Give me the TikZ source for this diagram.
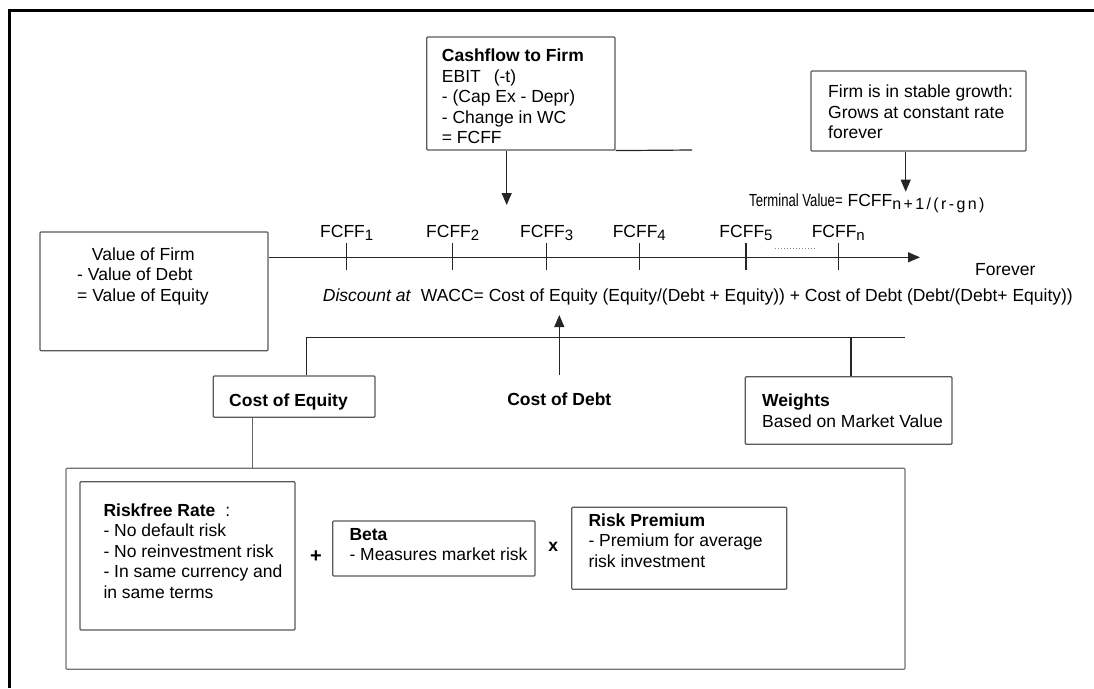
\documentclass[tikz,border=0pt]{standalone}
\usepackage{fontspec}
\setmainfont{Liberation Sans}
\usetikzlibrary{arrows.meta,fit}

\newcommand{\lowsub}[1]{\raisebox{-3pt}{\fontsize{15}{15}\selectfont #1}}

\begin{document}
\begin{tikzpicture}
[
  x=1pt, y=-1pt,
  box/.style = {draw=black!65, line width=1.2pt, inner sep=0pt, rounded corners=1pt},
  txt/.style = {anchor=base west, inner sep=0pt, align=left, font=\fontsize{17.5}{20.5}\selectfont},
  lab/.style = {anchor=base, inner sep=0pt, font=\fontsize{17.5}{20.5}\selectfont},
  link/.style = {draw=black!85, line width=1.2pt},
  arr/.style = {link, -{Triangle[length=12pt,width=10pt]}},
]
\useasboundingbox (0,0) rectangle (1094,688);

%frame
\draw[line width=3pt] (1094,10) -- (9,10) -- (9,688);

%boxes
\node[box, fit={(426.7,37) (615,150)}] (cff) {}; %cashflow
\node[box, fit={(811,71) (1026,151)}] (tg) {}; %stable growth
\node[box, fit={(40,232) (268,350.7)}] (vof) {}; %value of firm
\node[box, fit={(213.3,376) (375,417.3)}] (coe) {}; %cost of equity
\node[box, fit={(745.3,376.7) (952,444.3)}] (wts) {}; %weights
\node[box, draw=black!55, fit={(66,468.3) (905,669.3)}] (capm) {};
\node[box, fit={(80,481.7) (295,630)}] (rf) {}; %riskfree
\node[box, fit={(332.7,521) (535,576)}] (beta) {};
\node[box, fit={(571.7,507.3) (786.7,589.3)}] (rp) {}; %premium

%texts (placed at the baseline of their last line)
\node[txt] (cfftxt) at (441.7,143.5)
  {\textbf{Cashflow to Firm}\\EBIT\hspace{13pt}(-t)\\- (Cap Ex - Depr)\\- Change in WC\\= FCFF};
\node[txt] (tgtxt) at (828,138.5)
  {Firm is in stable growth:\\Grows at constant rate\\forever};
\node[txt] (tv) at (749,206)
  {\scalebox{0.75}[1]{Terminal Value=} FCFF\raisebox{-3pt}{\fontsize{16}{16}\selectfont\addfontfeature{LetterSpace=15}n+1/(r-gn)}};
\node[txt] (voftxt) at (77,301)
  {\hspace*{14.7pt}Value of Firm\\- Value of Debt\\= Value of Equity};
\node[txt] (wacc) at (322.7,301.7)
  {\textit{Discount at}\hspace{5pt} WACC= Cost of Equity (Equity/(Debt + Equity)) + Cost of Debt (Debt/(Debt+ Equity))};
\node[txt] (fvr) at (975,275) {Forever};
\node[txt] (coetxt) at (229,406.7) {\textbf{Cost of Equity}};
\node[lab] (cod) at (559.3,405) {\textbf{Cost of Debt}};
\node[txt] (wtstxt) at (762,427.2) {\textbf{Weights}\\Based on Market Value};
\node[txt] (rftxt) at (103.3,598)
  {\textbf{Riskfree Rate}\hspace{10pt}:\\- No default risk\\- No reinvestment risk\\- In same currency and\\in same terms};
\node[txt] (betatxt) at (349.3,560.5) {\textbf{Beta}\\- Measures market risk};
\node[txt] (rptxt) at (588.3,567)
  {\textbf{Risk Premium}\\- Premium for average\\risk investment};
\node[inner sep=0pt, font=\fontsize{20}{20}\selectfont\bfseries] (plus) at (316,556.7) {+};
\node[inner sep=0pt, font=\fontsize{17.5}{20}\selectfont\bfseries] (times) at (553.3,547) {x};

%time line
\coordinate (tlend) at (920,257.3);
\coordinate (t1) at (346.7,257.3); %FCFF1
\coordinate (t2) at (452.7,257.3);
\coordinate (t3) at (546.7,257.3);
\coordinate (t4) at (639.3,257.3);
\coordinate (t5) at (746,257.3);
\coordinate (tn) at (838.3,257.3);
\draw[arr] (vof.east |- tlend) -- (tlend);
\draw[link] ([yshift=14pt]t1) -- ([yshift=-13pt]t1);
\draw[link] ([yshift=14pt]t2) -- ([yshift=-13pt]t2);
\draw[link] ([yshift=14pt]t3) -- ([yshift=-13pt]t3);
\draw[link] ([yshift=14pt]t4) -- ([yshift=-13pt]t4);
\draw[link] ([yshift=14pt]t5) -- ([yshift=-13pt]t5);
\draw[link] ([yshift=14pt]tn) -- ([yshift=-13pt]tn);
\draw[black!45, line width=1pt, dotted] ([xshift=29pt,yshift=9pt]t5) -- ([xshift=-22pt,yshift=9pt]tn);

\node[lab] (f1) at (346.7,237) {FCFF\lowsub{1}};
\node[lab] (f2) at (452.7,237) {FCFF\lowsub{2}};
\node[lab] (f3) at (546.7,237) {FCFF\lowsub{3}};
\node[lab] (f4) at (639.3,237) {FCFF\lowsub{4}};
\node[lab] (f5) at (746,237) {FCFF\lowsub{5}};
\node[lab] (fn) at (838.3,237) {FCFF\lowsub{n}};

%arrows in
\coordinate (cffhit) at (506.7,205);
\coordinate (cffrule) at (692,150);
\draw[link] (cff.south east) -- (cffrule);
\draw[arr] (cff.south -| cffhit) -- (cffhit);
\coordinate (tvhit) at (905.7,191.7);
\draw[arr] (tg.south -| tvhit) -- (tvhit);
\coordinate (wacchit) at (559.3,315);
\draw[arr, shorten <=17pt] (cod.north) -- (wacchit);

%bracket under wacc
\coordinate (brl) at (306.7,337.3);
\coordinate (brw) at (851,337.3);
\coordinate (brr) at (905,337.3);
\draw[link] (coe.north -| brl) -- (brl) -- (brr);
\draw[link] (brw) -- (wts.north -| brw);
\coordinate (coex) at (252.7,0);
\draw[link, draw=black!60] (coe.south -| coex) -- (capm.north -| coex);
\end{tikzpicture}
\end{document}
